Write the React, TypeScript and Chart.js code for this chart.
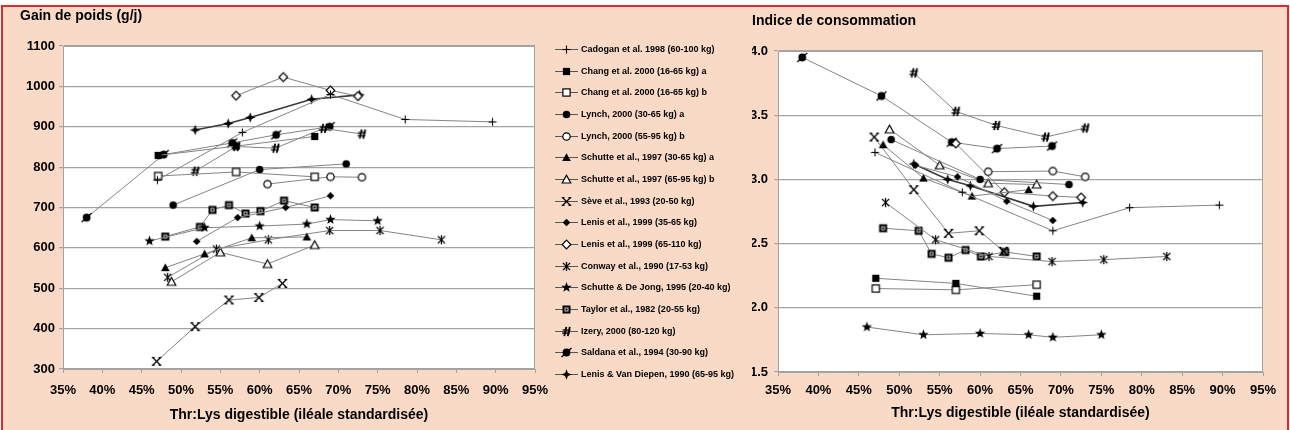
import React, { useEffect, useRef } from "react";
import { Chart, registerables } from "chart.js";

Chart.register(...registerables);

const FONT = "'Liberation Sans', Arial, sans-serif";

// ---------- tick labels ----------
const xTickValues = [35, 40, 45, 50, 55, 60, 65, 70, 75, 80, 85, 90, 95];
const gainTickValues = [300, 400, 500, 600, 700, 800, 900, 1000, 1100];
const icTickValues = [1.5, 2.0, 2.5, 3.0, 3.5, 4.0];

// ---------- titles ----------
const gainTitle = "Gain de poids (g/j)";
const icTitle = "Indice de consommation";
const xTitle = "Thr:Lys digestible (iléale standardisée)";

// ---------- series (x = Thr:Lys %, gain = g/j, ic = indice) ----------
const cadoganX = [47, 57.8, 69, 78.5, 89.6];
const cadoganGain = [768, 886, 980, 918, 912];
const cadoganIC = [3.21, 2.9, 2.6, 2.78, 2.8];

const changX = [47.1, 57, 67];
const changAGain = [829, 852, 876];
const changAIC = [2.23, 2.19, 2.09];
const changBGain = [778, 788, 776];
const changBIC = [2.15, 2.14, 2.18];

const lynchAX = [49, 60, 71];
const lynchAGain = [706, 794, 808];
const lynchAIC = [3.31, 3.0, 2.96];

const lynchBX = [61, 69, 73];
const lynchBGain = [758, 776, 775];
const lynchBIC = [3.06, 3.065, 3.02];

const schutteAX = [48, 53, 59, 66];
const schutteAGain = [551, 585, 625, 627];
const schutteAIC = [3.27, 3.01, 2.87, 2.92];

const schutteBX = [48.8, 55, 61, 67];
const schutteBGain = [516, 589, 560, 607];
const schutteBIC = [3.39, 3.11, 2.97, 2.96];

const seveX = [46.9, 51.8, 56.1, 59.9, 62.9];
const seveGain = [319, 405, 471, 477, 512];
const seveIC = [3.33, 2.92, 2.58, 2.6, 2.44];

const lenisAX = [52, 57.2, 63.3, 69];
const lenisAGain = [616, 675, 700, 729];
const lenisAIC = [3.11, 3.02, 2.83, 2.68];

const lenisBX = [57, 63, 69, 72.5];
const lenisBGain = [977, 1023, 990, 976];
const lenisBIC = [3.28, 2.9, 2.87, 2.86];

const conwayX = [48.3, 54.5, 61.1, 68.9, 75.3, 83.1];
const conwayGain = [527, 597, 620, 643, 643, 620];
const conwayIC = [2.82, 2.53, 2.4, 2.36, 2.375, 2.4];

const sdjX = [46, 53, 60, 66, 69, 75];
const sdjGain = [617, 650, 654, 659, 670, 667];
const sdjIC = [1.85, 1.79, 1.8, 1.79, 1.77, 1.79];

const taylorX = [48, 52.4, 54, 56.1, 58.2, 60.1, 63.1, 67];
const taylorGain = [628, 652, 694, 706, 685, 691, 717, 700];
const taylorIC = [2.62, 2.6, 2.42, 2.39, 2.45, 2.4, 2.435, 2.4];

const izeryX = [51.8, 57, 62, 68.1, 73];
const izeryGain = [790, 851, 847, 896, 882];
const izeryIC = [3.83, 3.53, 3.42, 3.33, 3.4];

const saldanaX = [38, 47.8, 56.5, 62.1, 68.9];
const saldanaGain = [675, 831, 860, 880, 900];
const saldanaIC = [3.95, 3.65, 3.29, 3.24, 3.26];

const lvdX = [51.8, 56, 58.8, 66.6, 72.7];
const lvdGain = [892, 908, 923, 968, 979];
const lvdIC = [3.12, 3.0, 2.95, 2.79, 2.82];

const seriesLabels = [
  "Cadogan et al. 1998 (60-100 kg)",
  "Chang et al. 2000 (16-65 kg) a",
  "Chang et al. 2000 (16-65 kg) b",
  "Lynch, 2000 (30-65 kg) a",
  "Lynch, 2000 (55-95 kg) b",
  "Schutte et al., 1997 (30-65 kg) a",
  "Schutte et al., 1997 (65-95 kg) b",
  "Sève et al., 1993 (20-50 kg)",
  "Lenis et al., 1999 (35-65 kg)",
  "Lenis et al., 1999 (65-110 kg)",
  "Conway et al., 1990 (17-53 kg)",
  "Schutte & De Jong, 1995 (20-40 kg)",
  "Taylor et al., 1982 (20-55 kg)",
  "Izery, 2000 (80-120 kg)",
  "Saldana et al., 1994 (30-90 kg)",
  "Lenis & Van Diepen, 1990 (65-95 kg)",
];

const seriesMarkers = [
  "plus", "rectF", "rectO", "circF", "circO", "triF", "triO", "xBar",
  "diaF", "diaO", "aster", "star5", "sqPat", "hash", "oSlash", "star4",
];

const seriesX = [
  cadoganX, changX, changX, lynchAX, lynchBX, schutteAX, schutteBX, seveX,
  lenisAX, lenisBX, conwayX, sdjX, taylorX, izeryX, saldanaX, lvdX,
];
const seriesGain = [
  cadoganGain, changAGain, changBGain, lynchAGain, lynchBGain, schutteAGain, schutteBGain, seveGain,
  lenisAGain, lenisBGain, conwayGain, sdjGain, taylorGain, izeryGain, saldanaGain, lvdGain,
];
const seriesIC = [
  cadoganIC, changAIC, changBIC, lynchAIC, lynchBIC, schutteAIC, schutteBIC, seveIC,
  lenisAIC, lenisBIC, conwayIC, sdjIC, taylorIC, izeryIC, saldanaIC, lvdIC,
];

// ---------- markers ----------
function makeMarker(kind: string): HTMLCanvasElement {
  const size = 13;
  const cv = document.createElement("canvas");
  cv.width = size;
  cv.height = size;
  const c = cv.getContext("2d") as CanvasRenderingContext2D;
  c.translate(size / 2, size / 2);
  c.fillStyle = "#000";
  c.strokeStyle = "#000";
  c.lineWidth = 1.2;
  const poly = (pts: number[][]) => {
    c.beginPath();
    pts.forEach(([x, y], i) => (i ? c.lineTo(x, y) : c.moveTo(x, y)));
    c.closePath();
  };
  const line = (x1: number, y1: number, x2: number, y2: number) => {
    c.beginPath();
    c.moveTo(x1, y1);
    c.lineTo(x2, y2);
    c.stroke();
  };
  switch (kind) {
    case "plus":
      c.lineWidth = 1.1;
      line(-4, 0, 4, 0);
      line(0, -4, 0, 4);
      break;
    case "rectF":
      c.fillRect(-3.6, -3.6, 7.2, 7.2);
      break;
    case "rectO":
      c.fillStyle = "#fff";
      c.fillRect(-3.6, -3.6, 7.2, 7.2);
      c.strokeRect(-3.6, -3.6, 7.2, 7.2);
      break;
    case "circF":
      c.beginPath();
      c.arc(0, 0, 3.8, 0, Math.PI * 2);
      c.fill();
      break;
    case "circO":
      c.beginPath();
      c.arc(0, 0, 3.7, 0, Math.PI * 2);
      c.fillStyle = "#fff";
      c.fill();
      c.stroke();
      break;
    case "triF":
      poly([[0, -4.3], [4.3, 3.5], [-4.3, 3.5]]);
      c.fill();
      break;
    case "triO":
      poly([[0, -4.3], [4.3, 3.5], [-4.3, 3.5]]);
      c.fillStyle = "#fff";
      c.fill();
      c.stroke();
      break;
    case "xBar":
      c.lineWidth = 1.3;
      line(-3.5, -3.5, 3.5, 3.5);
      line(3.5, -3.5, -3.5, 3.5);
      line(-4.8, -3.8, -2, -3.8);
      line(2, -3.8, 4.8, -3.8);
      line(-4.8, 3.8, -2, 3.8);
      line(2, 3.8, 4.8, 3.8);
      break;
    case "diaF":
      poly([[0, -3.8], [3.8, 0], [0, 3.8], [-3.8, 0]]);
      c.fill();
      break;
    case "diaO":
      poly([[0, -4.3], [4.3, 0], [0, 4.3], [-4.3, 0]]);
      c.fillStyle = "#fff";
      c.fill();
      c.stroke();
      break;
    case "aster":
      c.lineWidth = 1.3;
      line(-3.6, -3.6, 3.6, 3.6);
      line(3.6, -3.6, -3.6, 3.6);
      line(0, -4.6, 0, 4.6);
      break;
    case "star5": {
      const pts: number[][] = [];
      for (let i = 0; i < 10; i++) {
        const r = i % 2 ? 2.3 : 5.4;
        const a = -Math.PI / 2 + (i * Math.PI) / 5;
        pts.push([r * Math.cos(a), r * Math.sin(a)]);
      }
      poly(pts);
      c.fill();
      break;
    }
    case "sqPat":
      c.fillRect(-4, -4, 8, 8);
      c.strokeStyle = "#c8c8c8";
      c.lineWidth = 1;
      c.strokeRect(-1.5, -1.5, 3, 3);
      break;
    case "hash":
      c.lineWidth = 1.8;
      line(-2.2, 4.6, -0.2, -4.6);
      line(1.3, 4.6, 3.3, -4.6);
      c.lineWidth = 1.3;
      line(-3.8, -1.5, 4, -1.5);
      line(-4.4, 1.6, 3.4, 1.6);
      break;
    case "oSlash":
      c.beginPath();
      c.arc(0, 0, 3.9, 0, Math.PI * 2);
      c.fill();
      c.lineWidth = 1.3;
      line(-5, 4.6, 5, -4.6);
      break;
    case "star4":
      poly([[0, -5.3], [1.4, -1.4], [5.3, 0], [1.4, 1.4], [0, 5.3], [-1.4, 1.4], [-5.3, 0], [-1.4, -1.4]]);
      c.fill();
      break;
  }
  return cv;
}

const GRID = "#a3a3a3";
const tickFont = { family: FONT, size: 13, weight: "bold" as const };
const titleFont = { family: FONT, size: 14, weight: "bold" as const };

function lineColor(i: number) {
  return i === 15 ? "#3a3a3a" : "#858585";
}
function lineWidth(i: number) {
  return i === 15 ? 1.6 : 1;
}

const plotFrame = {
  id: "plotFrame",
  beforeDraw(chart: any) {
    const { ctx, chartArea: a } = chart;
    ctx.save();
    ctx.fillStyle = "#fff";
    ctx.fillRect(a.left, a.top, a.right - a.left, a.bottom - a.top);
    ctx.restore();
  },
  beforeDatasetsDraw(chart: any) {
    const { ctx, chartArea: a } = chart;
    ctx.save();
    ctx.strokeStyle = GRID;
    ctx.lineWidth = 1;
    ctx.strokeRect(a.left + 0.5, a.top + 0.5, a.right - a.left - 1, a.bottom - a.top);
    ctx.restore();
  },
};

function makeSideLegend(markers: HTMLCanvasElement[]) {
  return {
    id: "sideLegend",
    afterDraw(chart: any) {
      const ctx = chart.ctx as CanvasRenderingContext2D;
      ctx.save();
      ctx.font = `bold 9px ${FONT}`;
      ctx.textBaseline = "middle";
      ctx.textAlign = "left";
      seriesLabels.forEach((label, i) => {
        const y = Math.round(49 + i * 21.67) + 0.5;
        ctx.strokeStyle = "#555";
        ctx.lineWidth = 1;
        ctx.beginPath();
        ctx.moveTo(555, y);
        ctx.lineTo(578, y);
        ctx.stroke();
        const m = markers[i];
        ctx.drawImage(m, 566.5 - m.width / 2, y - m.height / 2);
        ctx.fillStyle = "#000";
        ctx.fillText(label, 581, y + 0.5);
      });
      ctx.restore();
    },
  };
}

function buildDatasets(values: number[][], markers: HTMLCanvasElement[]) {
  return seriesLabels.map((label, i) => ({
    label,
    data: seriesX[i].map((x, j) => ({ x, y: values[i][j] })),
    showLine: true,
    borderColor: lineColor(i),
    borderWidth: lineWidth(i),
    pointStyle: markers[i] as any,
    pointRadius: 4,
    pointBackgroundColor: "#000",
    pointBorderColor: "#000",
    fill: false,
    tension: 0,
  }));
}

function xScale(height: number, labelPad: number, titlePadBottom: number) {
  return {
    type: "linear" as const,
    min: 35,
    max: 95,
    afterBuildTicks: (s: any) => {
      s.ticks = xTickValues.map((v) => ({ value: v }));
    },
    afterFit: (s: any) => {
      s.height = height;
    },
    ticks: {
      callback: (v: any) => `${v}%`,
      font: tickFont,
      color: "#000",
      padding: labelPad,
      maxRotation: 0,
      autoSkip: false,
    },
    grid: { drawOnChartArea: false, drawTicks: true, tickLength: 4, color: GRID },
    border: { display: true, color: GRID },
    title: {
      display: true,
      text: xTitle,
      font: titleFont,
      color: "#000",
      padding: { top: 2, bottom: titlePadBottom },
    },
  };
}

function yScale(min: number, max: number, ticksArr: number[], width: number, pad: number, fmt: (v: number) => string) {
  return {
    type: "linear" as const,
    min,
    max,
    afterBuildTicks: (s: any) => {
      s.ticks = ticksArr.map((v) => ({ value: v }));
    },
    afterFit: (s: any) => {
      s.width = width;
    },
    ticks: {
      callback: (v: any) => fmt(Number(v)),
      font: tickFont,
      color: "#000",
      padding: pad,
    },
    grid: { drawOnChartArea: true, drawTicks: true, tickLength: 4, color: GRID, lineWidth: 1.2 },
    border: { display: true, color: GRID },
  };
}

function GainChart() {
  const ref = useRef<HTMLCanvasElement | null>(null);
  useEffect(() => {
    if (!ref.current) return;
    const markers = seriesMarkers.map(makeMarker);
    const chart = new Chart(ref.current, {
      type: "scatter",
      data: { datasets: buildDatasets(seriesGain, markers) as any },
      options: {
        animation: false,
        responsive: false,
        maintainAspectRatio: false,
        layout: { padding: { left: 20, right: 210, top: 0, bottom: 0 } },
        plugins: {
          legend: { display: false },
          tooltip: { enabled: false },
          title: {
            display: true,
            text: gainTitle,
            align: "start",
            color: "#000",
            font: titleFont,
            padding: { top: 7.6, bottom: 21.6 },
          },
        },
        scales: {
          x: xScale(61, 10, 6) as any,
          y: yScale(300, 1100, gainTickValues, 43, 4, (v) => String(v)) as any,
        },
      },
      plugins: [plotFrame, makeSideLegend(markers)],
    });
    return () => chart.destroy();
  }, []);
  return (
    <canvas
      ref={ref}
      width={745}
      height={430}
      style={{ position: "absolute", left: 0, top: 0, width: 745, height: 430 }}
    />
  );
}

function ICChart() {
  const ref = useRef<HTMLCanvasElement | null>(null);
  useEffect(() => {
    if (!ref.current) return;
    const markers = seriesMarkers.map(makeMarker);
    const chart = new Chart(ref.current, {
      type: "scatter",
      data: { datasets: buildDatasets(seriesIC, markers) as any },
      options: {
        animation: false,
        responsive: false,
        maintainAspectRatio: false,
        layout: { padding: { left: 7, right: 27, top: 0, bottom: 0 } },
        plugins: {
          legend: { display: false },
          tooltip: { enabled: false },
          title: {
            display: true,
            text: icTitle,
            align: "start",
            color: "#000",
            font: titleFont,
            padding: { top: 12.6, bottom: 21.6 },
          },
        },
        scales: {
          x: xScale(58, 7, 8) as any,
          y: yScale(1.5, 4.0, icTickValues, 26, 6, (v) => v.toFixed(1)) as any,
        },
      },
      plugins: [plotFrame],
    });
    return () => chart.destroy();
  }, []);
  return (
    <canvas
      ref={ref}
      width={545}
      height={430}
      style={{ position: "absolute", left: 745, top: 0, width: 545, height: 430 }}
    />
  );
}

export default function App() {
  return (
    <div
      style={{
        position: "absolute",
        left: 0,
        top: 0,
        width: 1290,
        height: 430,
        background: "#fff",
        overflow: "hidden",
      }}
    >
      <div
        style={{
          position: "absolute",
          left: 1,
          top: 5,
          width: 1288,
          height: 430,
          boxSizing: "border-box",
          borderTop: "2px solid #e5262d",
          borderLeft: "2px solid #e5262d",
          borderRight: "2px solid #e5262d",
          background: "#f9dac6",
        }}
      />
      <GainChart />
      <ICChart />
    </div>
  );
}
